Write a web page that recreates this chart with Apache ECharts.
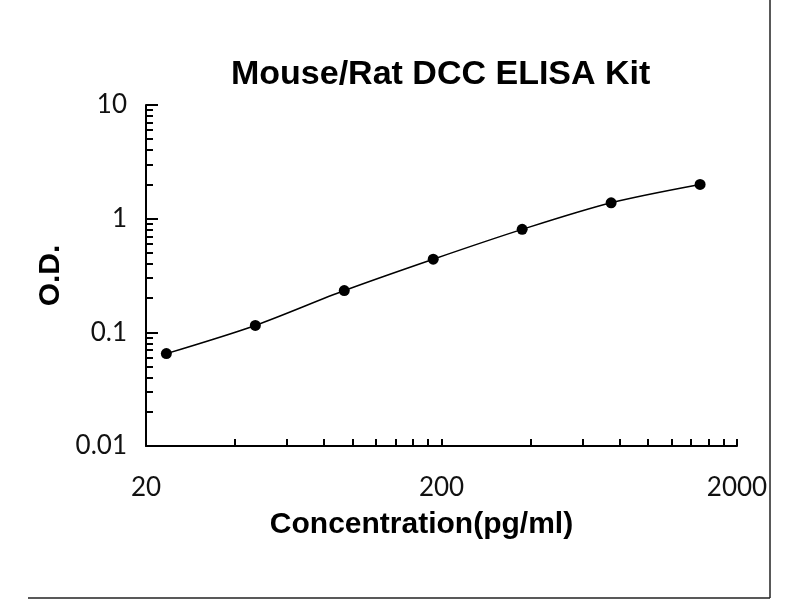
<!DOCTYPE html>
<html>
<head>
<meta charset="utf-8">
<title>Mouse/Rat DCC ELISA Kit</title>
<script src="https://cdn.jsdelivr.net/npm/echarts@6/dist/echarts.min.js"></script>
<style>
    html, body { margin: 0; padding: 0; background: #fff; }
    #chart { width: 800px; height: 600px; }
</style>
</head>
<body>
<div id="chart"></div>
<script>
// standard curve points (pg/ml vs O.D.)
const concentration = [23.44, 46.88, 93.75, 187.5, 375, 750, 1500];
const od = [0.065, 0.115, 0.233, 0.44, 0.805, 1.38, 2.0];

// axis labels and minor tick positions
const xTickLabels = [20, 200, 2000];
const xMinorTicks = [40, 60, 80, 100, 120, 140, 160, 180, 200, 400, 600, 800, 1000, 1200, 1400, 1600, 1800, 2000];
const yTickLabels = [0.01, 0.1, 1, 10];
const yMinorTicks = [0.02, 0.03, 0.04, 0.05, 0.06, 0.07, 0.08, 0.09, 0.2, 0.3, 0.4, 0.5, 0.6, 0.7, 0.8, 0.9, 2, 3, 4, 5, 6, 7, 8, 9];

// both axes are log scales; plot in decades
const toX = v => Math.log10(v / xTickLabels[0]);
const toY = v => Math.log10(v);

const findLabel = (list, conv, v) => {
    const hit = list.find(t => Math.abs(conv(t) - v) < 1e-6);
    return hit === undefined ? '' : String(hit);
};

const labelFont = { fontFamily: 'Lato, "Liberation Sans", sans-serif', fontSize: 26, color: '#111' };
const nameFont = { fontFamily: '"Liberation Sans", Arial, sans-serif', fontWeight: 'bold', fontSize: 30, color: '#000' };

const chart = echarts.init(document.getElementById('chart'));
chart.setOption({
    animation: false,
    backgroundColor: '#fff',
    title: {
        text: 'Mouse/Rat DCC ELISA Kit',
        left: 226,
        top: 53,
        textStyle: { fontFamily: '"Liberation Sans", Arial, sans-serif', fontWeight: 'bold', fontSize: 34, color: '#000' }
    },
    grid: { left: 146, right: 63, top: 105, bottom: 154 },
    xAxis: {
        type: 'value',
        min: toX(xTickLabels[0]),
        max: toX(xTickLabels[xTickLabels.length - 1]),
        interval: 1,
        name: 'Concentration(pg/ml)',
        nameLocation: 'middle',
        nameGap: 64,
        nameTextStyle: Object.assign({ padding: [0, 40, 0, 0] }, nameFont),
        axisLine: { onZero: false, lineStyle: { color: '#000', width: 2 } },
        axisTick: {
            inside: true,
            length: 7,
            customValues: xMinorTicks.map(toX),
            lineStyle: { color: '#000', width: 2 }
        },
        axisLabel: Object.assign({
            margin: 29,
            formatter: v => findLabel(xTickLabels, toX, v)
        }, labelFont),
        splitLine: { show: false }
    },
    yAxis: [
        {
            type: 'value',
            min: toY(yTickLabels[0]),
            max: toY(yTickLabels[yTickLabels.length - 1]),
            interval: 1,
            name: 'O.D.',
            nameLocation: 'middle',
            nameRotate: 90,
            nameGap: 80,
            nameMoveOverlap: false,
            nameTextStyle: Object.assign({ padding: [14, 0, 0, 0] }, nameFont),
            axisLine: { onZero: false, lineStyle: { color: '#000', width: 2 } },
            axisTick: { inside: true, length: 12, lineStyle: { color: '#000', width: 2 } },
            axisLabel: Object.assign({
                margin: 19,
                formatter: v => findLabel(yTickLabels, toY, v)
            }, labelFont),
            splitLine: { show: false }
        },
        {
            // minor ticks only
            type: 'value',
            position: 'left',
            min: toY(yTickLabels[0]),
            max: toY(yTickLabels[yTickLabels.length - 1]),
            interval: 1,
            axisLine: { show: false, onZero: false },
            axisTick: {
                inside: true,
                length: 7,
                customValues: yMinorTicks.map(toY),
                lineStyle: { color: '#000', width: 2 }
            },
            axisLabel: { show: false },
            splitLine: { show: false }
        }
    ],
    series: [{
        type: 'line',
        data: concentration.map((c, i) => [toX(c), toY(od[i])]),
        smooth: 0.3,
        symbol: 'circle',
        symbolSize: 11,
        itemStyle: { color: '#000' },
        lineStyle: { color: '#000', width: 1.5 }
    }],
    graphic: [
        { type: 'line', shape: { x1: 770, y1: 0, x2: 770, y2: 598 }, style: { stroke: '#222', lineWidth: 1.5 } },
        { type: 'line', shape: { x1: 28, y1: 598, x2: 770, y2: 598 }, style: { stroke: '#222', lineWidth: 1.5 } }
    ]
});
</script>
</body>
</html>
